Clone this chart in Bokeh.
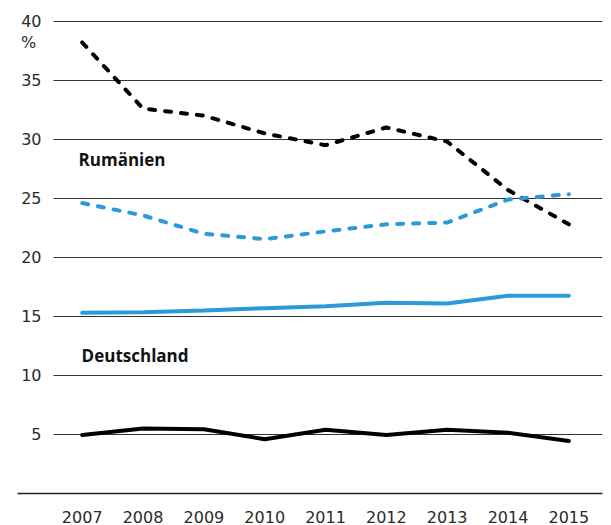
from bokeh.plotting import figure
from bokeh.models import FixedTicker, Range1d, Label, BoxAnnotation
from bokeh.embed import file_html
from bokeh.resources import INLINE

years = [2007, 2008, 2009, 2010, 2011, 2012, 2013, 2014, 2015]
rum_black = [38.2, 32.6, 32.0, 30.5, 29.5, 31.0, 29.8, 25.7, 22.8]
rum_blue = [24.6, 23.55, 22.0, 21.55, 22.2, 22.8, 22.95, 24.9, 25.35]
de_blue = [15.3, 15.35, 15.5, 15.7, 15.85, 16.15, 16.1, 16.75, 16.75]
de_black = [4.95, 5.5, 5.45, 4.6, 5.4, 4.95, 5.4, 5.15, 4.45]
y_ticks = [5, 10, 15, 20, 25, 30, 35, 40]
x_ticks = years

BLUE = "#2b9ad6"
TICK_FONT = "DejaVu Sans"

p = figure(width=611, height=525, output_backend="svg", toolbar_location=None,
           x_range=Range1d(2005.936, 2015.553), y_range=Range1d(0, 40.57),
           min_border_left=17, min_border_right=9, min_border_top=14, min_border_bottom=31)
p.outline_line_color = None
p.background_fill_color = "white"

# axes
p.xaxis.ticker = FixedTicker(ticks=x_ticks)
p.xaxis.major_tick_line_color = None
p.xaxis.minor_tick_line_color = None
p.xaxis.axis_line_color = "#222222"
p.xaxis.axis_line_width = 1.3
p.xaxis.major_label_text_font = TICK_FONT
p.xaxis.major_label_text_font_size = "16px"
p.xaxis.major_label_text_color = "#2a2a2a"
p.xaxis.major_label_standoff = 11

p.yaxis.ticker = FixedTicker(ticks=y_ticks)
p.yaxis.major_tick_line_color = None
p.yaxis.minor_tick_line_color = None
p.yaxis.axis_line_color = None
p.yaxis.major_label_text_font = TICK_FONT
p.yaxis.major_label_text_font_size = "16px"
p.yaxis.major_label_text_color = "#2a2a2a"
p.yaxis.major_label_standoff = -30

p.xgrid.grid_line_color = None
p.ygrid.ticker = FixedTicker(ticks=y_ticks)
p.ygrid.grid_line_color = "#333333"
p.ygrid.grid_line_width = 1.2
try:
    p.ygrid.cross_bounds = (2006.528, 2015.553)
except Exception:
    p.add_layout(BoxAnnotation(right=2006.528, fill_color="white", fill_alpha=1.0,
                               line_alpha=0, level="glyph"))

# lines
p.line(years, rum_black, line_color="black", line_width=4, line_dash="6 10", line_cap="round")
p.line(years, rum_blue, line_color=BLUE, line_width=4, line_dash="6 10", line_cap="round")
p.line(years, de_blue, line_color=BLUE, line_width=4, line_cap="round")
p.line(years, de_black, line_color="black", line_width=4, line_cap="round")

# labels
p.add_layout(Label(x=2006.94, y=28.26, text="Rumänien", text_font="Open Sans",
                   text_font_style="bold", text_font_size="17px", text_color="#111111",
                   text_baseline="middle"))
p.add_layout(Label(x=2006.99, y=11.65, text="Deutschland", text_font="Open Sans",
                   text_font_style="bold", text_font_size="17px", text_color="#111111",
                   text_baseline="middle"))
p.add_layout(Label(x=2006.117, y=38.23, text="%", text_font=TICK_FONT,
                   text_font_size="16px", text_color="#2a2a2a",
                   text_baseline="middle", text_align="center"))

open("out.html", "w").write(file_html(p, INLINE))
